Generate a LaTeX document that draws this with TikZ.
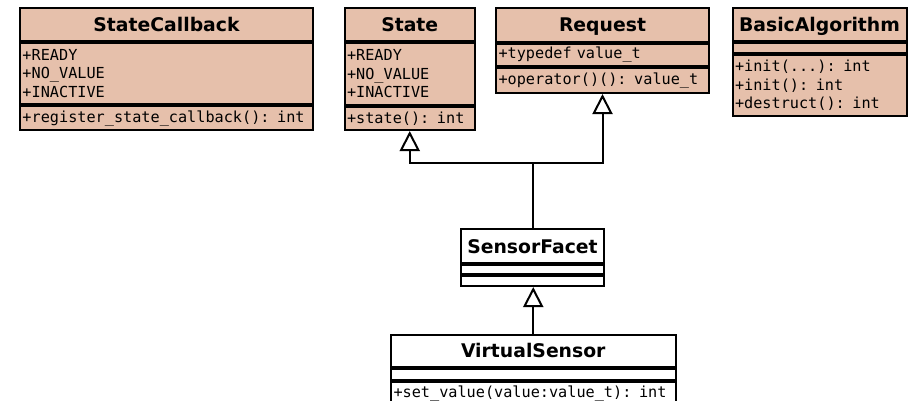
\documentclass[tikz,border=0pt]{standalone}
\usepackage{fontspec}
\setmainfont{DejaVu Sans}
\newfontfamily\umlmono{DejaVu Sans Mono}
\usetikzlibrary{arrows.meta}
\definecolor{umlfill}{RGB}{230,192,171}
\begin{document}
\begin{tikzpicture}[x=1pt,y=-1pt,
  box/.style={draw=black, line width=2pt, inner sep=0pt, anchor=north west},
  ctitle/.style={box, font=\fontsize{18.8}{22}\selectfont\bfseries, align=center, text height=13.7pt, text depth=0pt},
  cmem/.style={box, font=\umlmono\fontsize{15.2}{18.3}\selectfont, align=left, inner xsep=2.5pt},
  inh/.style={line width=2pt, -{Triangle[open, width=20pt, length=20pt]}}]
\useasboundingbox (0,0) rectangle (914,400);
% StateCallback
\node[ctitle, fill=umlfill, minimum width=293pt, minimum height=33pt] (sc1) at (19,7) {StateCallback};
\node[cmem, fill=umlfill, text width=288pt, minimum height=61pt] (sc2) at (sc1.south west) {+READY\\+NO\_VALUE\\+INACTIVE};
\node[cmem, fill=umlfill, text width=288pt, minimum height=24pt] (sc3) at (sc2.south west) {+register\_state\_callback(): int};
% State
\node[ctitle, fill=umlfill, minimum width=130.5pt, minimum height=33pt] (st1) at (343.5,7) {State};
\node[cmem, fill=umlfill, text width=125.5pt, minimum height=61.5pt] (st2) at (st1.south west) {+READY\\+NO\_VALUE\\+INACTIVE};
\node[cmem, fill=umlfill, text width=125.5pt, minimum height=23.5pt] (st3) at (st2.south west) {+state(): int};
% Request
\node[ctitle, fill=umlfill, minimum width=213pt, minimum height=33.5pt] (rq1) at (495,7) {Request};
\node[cmem, fill=umlfill, text width=208pt, minimum height=22.5pt] (rq2) at (rq1.south west) {+typedef value\_t};
\node[cmem, fill=umlfill, text width=208pt, minimum height=25pt] (rq3) at (rq2.south west) {+operator()(): value\_t};
% BasicAlgorithm
\node[ctitle, fill=umlfill, minimum width=174pt, minimum height=32.5pt] (ba1) at (731.5,7) {BasicAlgorithm};
\node[cmem, fill=umlfill, text width=169pt, minimum height=10.5pt] (ba2) at (ba1.south west) {};
\node[cmem, fill=umlfill, text width=169pt, minimum height=61pt] (ba3) at (ba2.south west) {+init(...): int\\+init(): int\\+destruct(): int};
% SensorFacet
\node[ctitle, fill=white, minimum width=143pt, minimum height=34.3pt] (sf1) at (460,228) {SensorFacet};
\node[cmem, fill=white, text width=138pt, minimum height=8.7pt] (sf2) at (sf1.south west) {};
\node[cmem, fill=white, text width=138pt, minimum height=10pt] (sf3) at (sf2.south west) {};
% VirtualSensor
\node[ctitle, fill=white, minimum width=284.5pt, minimum height=32pt] (vs1) at (390,334) {VirtualSensor};
\node[cmem, fill=white, text width=279.5pt, minimum height=11pt] (vs2) at (vs1.south west) {};
\node[cmem, fill=white, text width=279.5pt, minimum height=22pt] (vs3) at (vs2.south west) {+set\_value(value:value\_t): int};
% connectors
\coordinate (jn) at (532,163);
\draw[inh] (sf1.north) -- (sf1.north |- jn) -| (st3.south);
\draw[inh] (sf1.north |- jn) -| (rq3.south);
\draw[inh] (vs1.north) -- (vs1.north |- sf3.south);
\end{tikzpicture}
\end{document}
